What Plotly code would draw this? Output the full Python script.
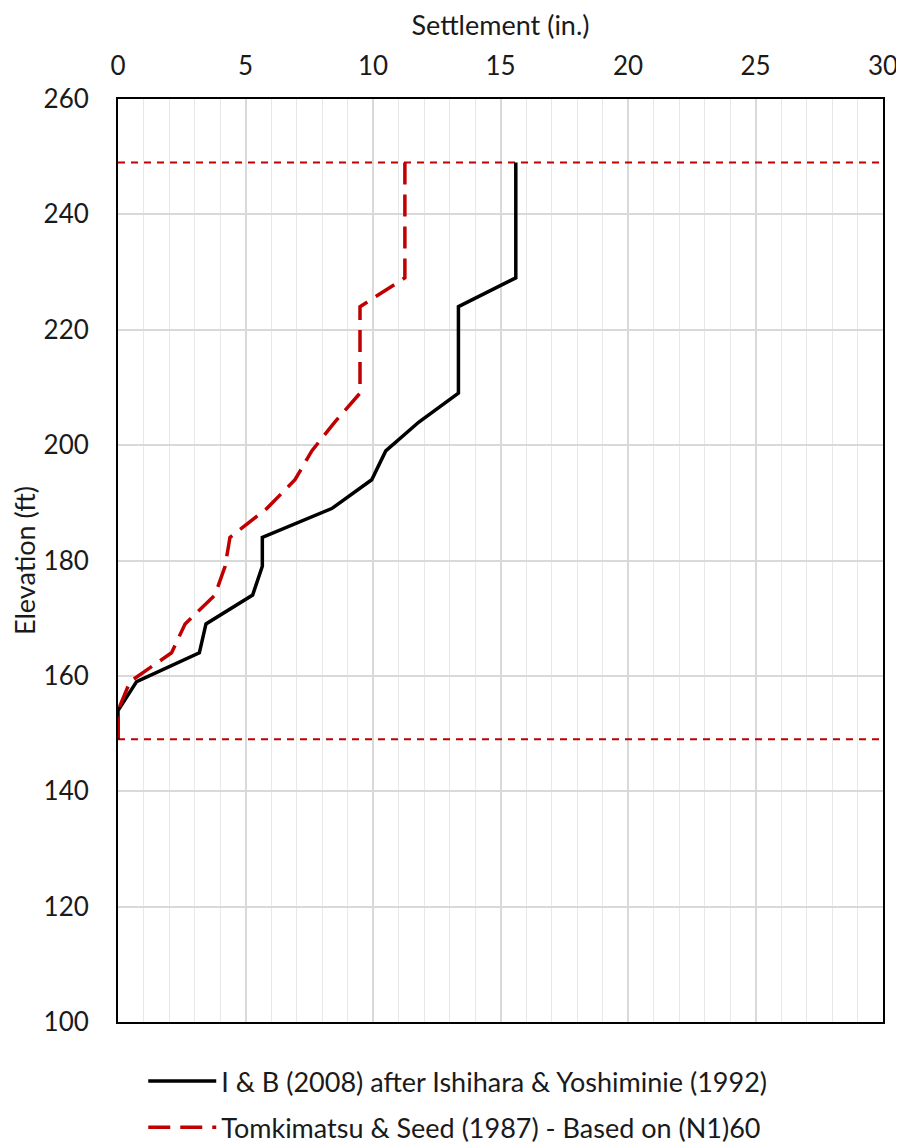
import plotly.graph_objects as go

elev = [249, 244, 239, 234, 229, 224, 219, 214, 209, 204, 199, 194, 189, 184, 179, 174, 169, 164, 159, 154, 149]
ib_settle = [15.6, 15.6, 15.6, 15.6, 15.6, 13.35, 13.35, 13.35, 13.35, 11.8, 10.5, 9.95, 8.38, 5.66, 5.66, 5.28, 3.45, 3.19, 0.73, 0.0, 0.0]
ts_settle = [11.25, 11.25, 11.25, 11.25, 11.25, 9.49, 9.49, 9.49, 9.49, 8.5, 7.6, 6.94, 5.83, 4.39, 4.2, 3.8, 2.63, 2.1, 0.47, 0.0, 0.0]
layer_top = 249
layer_bottom = 149
x_limits = [0, 30]

name_ib = "I & B (2008) after Ishihara & Yoshiminie (1992)"
name_ts = "Tomkimatsu & Seed (1987) - Based on (N1)60"
red = "#C00000"
font = "Lato"
txt = "#1a1a1a"

fig = go.Figure()
for yv in [layer_top, layer_bottom]:
    fig.add_trace(go.Scatter(x=x_limits, y=[yv, yv], mode="lines",
                             line=dict(color=red, width=2, dash="7px,6px"),
                             showlegend=False, hoverinfo="skip"))
fig.add_trace(go.Scatter(x=ib_settle, y=elev, mode="lines", name=name_ib,
                         line=dict(color="black", width=3.5), legendgroup="a"))
fig.add_trace(go.Scatter(x=ts_settle, y=elev, mode="lines", name=name_ts,
                         line=dict(color=red, width=3.5, dash="22px,10px"), legendgroup="b"))

fig.update_layout(
    width=904, height=1145,
    margin=dict(l=110, r=29, t=91, b=131, autoexpand=False),
    paper_bgcolor="white", plot_bgcolor="white",
    font=dict(family=font, size=26, color=txt),
    showlegend=True,
    legend=dict(x=0.033, y=-0.038, xanchor="left", yanchor="top",
                orientation="v", tracegroupgap=8, itemwidth=68,
                bgcolor="rgba(0,0,0,0)",
                font=dict(family=font, size=27, color=txt)),
)
fig.update_xaxes(
    range=x_limits, side="top", dtick=5, tick0=0,
    showgrid=True, gridcolor="#d9d9d9", gridwidth=1.5,
    minor=dict(dtick=1, showgrid=True, gridcolor="#e8e8e8", gridwidth=1),
    showline=True, linecolor="black", linewidth=2, mirror=True,
    zeroline=False, ticks="", ticklabelstandoff=12,
    tickfont=dict(family=font, size=26, color=txt),
    title=dict(text="Settlement (in.)", font=dict(family=font, size=27, color=txt), standoff=10),
)
fig.update_yaxes(
    range=[100, 260], dtick=20, tick0=100,
    showgrid=True, gridcolor="#d9d9d9", gridwidth=1.5,
    showline=True, linecolor="black", linewidth=2, mirror=True,
    zeroline=False, ticks="", ticklabelstandoff=22,
    tickfont=dict(family=font, size=26, color=txt),
    title=dict(text="Elevation (ft)", font=dict(family=font, size=27, color=txt), standoff=8),
)

fig.write_html("out.html")
